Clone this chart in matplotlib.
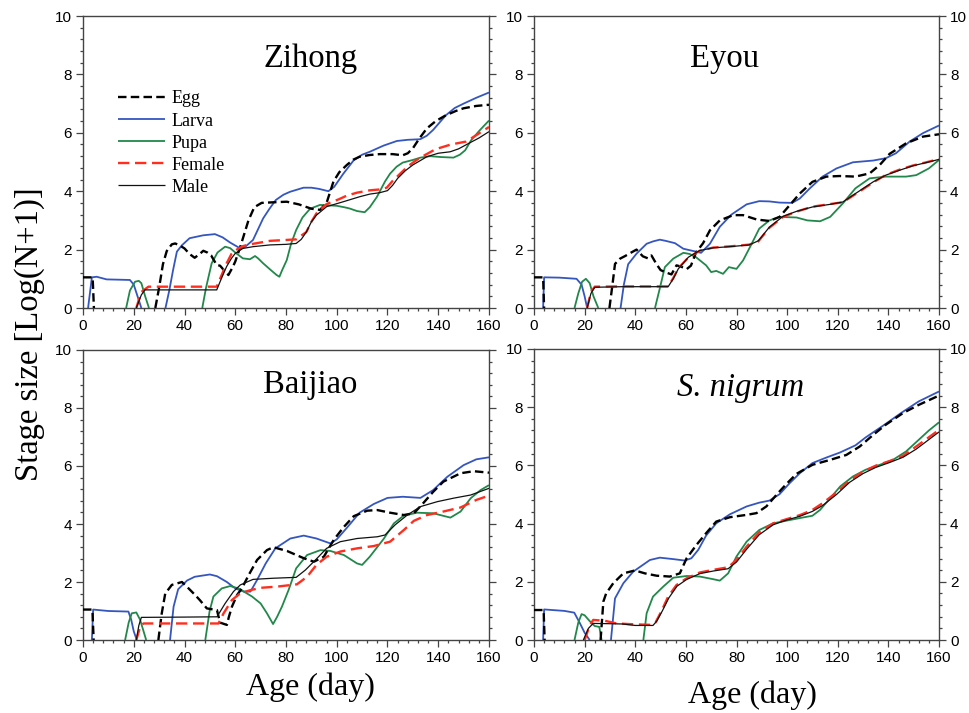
import numpy as np
import matplotlib
matplotlib.use("Agg")
import matplotlib.pyplot as plt
from matplotlib.ticker import MultipleLocator

# ---------------- data (day, log(N+1)) ----------------
zihong_egg = [(0,1.05),(3.8,1.05),(4.3,0),(28.5,0),(30,0.7),(31.5,1.5),(33,1.95),(35,2.18),(36.3,2.21),(38,2.15),(40,2.04),(42,1.85),(44,1.72),(46,1.85),(47.4,1.96),(49,1.9),(50.5,1.8),(52.7,1.47),(54,1.45),(55.5,1.3),(57.3,1.13),(59,1.4),(60,1.59),(62,2.1),(65.2,3.0),(67.5,3.45),(70.4,3.6),(75,3.62),(80.3,3.64),(85,3.55),(90,3.4),(93.4,3.36),(96,3.6),(98.7,4.33),(101,4.65),(104,4.9),(106.5,5.08),(109,5.18),(113,5.24),(117,5.27),(122,5.27),(126,5.23),(128,5.3),(130,5.47),(132.5,5.8),(135.5,6.15),(139,6.4),(143,6.6),(147,6.75),(150,6.84),(155,6.92),(160,6.96)]
zihong_larva = [(2,0),(3.5,1.05),(5.4,1.07),(9.3,0.98),(14,0.97),(18.5,0.96),(20,0.8),(21.5,0.4),(23,0),(32.5,0),(34,0.6),(35.5,1.3),(37,1.93),(39,2.15),(42,2.39),(47.4,2.49),(52,2.53),(55,2.42),(58,2.24),(62,2.04),(64,2.1),(67,2.33),(69,2.7),(71,3.07),(73.5,3.4),(76,3.7),(79,3.88),(81.6,3.98),(86.9,4.12),(90,4.12),(93,4.08),(96.7,4.0),(99,4.15),(102.6,4.6),(106.6,5.05),(110,5.25),(113,5.35),(118.4,5.56),(123.7,5.72),(128,5.76),(132.9,5.78),(135.5,5.9),(138,6.1),(140.5,6.35),(143,6.6),(146.5,6.85),(150,7.0),(155,7.2),(160,7.38)]
zihong_pupa = [(17,0),(18.5,0.6),(20.5,0.9),(22,0.93),(23,0.85),(24.5,0.4),(26,0),(47,0),(48.5,0.7),(50.7,1.53),(53,1.9),(56,2.1),(58,2.05),(60,1.9),(63,1.7),(65.8,1.67),(67.8,1.78),(69,1.7),(71,1.53),(74,1.3),(76.3,1.13),(77.4,1.07),(78.5,1.3),(80.3,1.64),(82,2.2),(84,2.67),(86.5,3.1),(89.5,3.4),(93.4,3.53),(96,3.52),(100,3.5),(103,3.45),(105,3.41),(108,3.32),(111,3.28),(113,3.45),(115.8,3.8),(119,4.33),(121,4.6),(123.6,4.84),(126,4.98),(130,5.07),(133,5.15),(136.8,5.2),(141,5.17),(146,5.15),(148.5,5.25),(150.6,5.4),(153,5.75),(156.5,6.1),(160,6.42)]
zihong_female = [(21,0),(23,0.55),(25.8,0.73),(40,0.73),(52.7,0.73),(54.5,1.1),(56.6,1.53),(58.5,1.85),(60.6,2.0),(63,2.12),(65.8,2.18),(73.7,2.3),(80,2.33),(84,2.35),(86,2.48),(88,2.6),(90,2.95),(92,3.24),(96,3.56),(101,3.73),(104,3.85),(108,3.95),(113,4.03),(117,4.06),(119.7,4.12),(122,4.35),(125,4.6),(128,4.85),(131.5,5.07),(135,5.25),(139,5.44),(145,5.6),(151,5.7),(155,5.92),(160,6.2)]
zihong_male = [(21,0),(23,0.45),(24.4,0.62),(40,0.62),(52.7,0.62),(54.5,1.0),(56.6,1.42),(58.5,1.7),(60,1.87),(63,2.04),(67,2.1),(73.7,2.16),(80,2.18),(84,2.21),(86,2.35),(88,2.6),(90,2.95),(92,3.18),(96,3.47),(102.6,3.64),(109,3.81),(113,3.9),(117,3.95),(120,4.02),(122,4.2),(124,4.44),(127,4.7),(130,4.9),(135.5,5.18),(140,5.3),(144.7,5.35),(148,5.45),(152.5,5.66),(156,5.82),(160,6.04)]

eyou_egg = [(0,1.05),(3.6,1.05),(4.0,0),(29.8,0),(31,0.8),(32,1.51),(34,1.69),(36,1.78),(38,1.88),(40.5,2.0),(43,1.77),(45,1.7),(46.4,1.8),(48.4,1.5),(50,1.3),(51.7,1.23),(54.3,1.15),(56.3,1.46),(58,1.42),(60.3,1.33),(62,1.45),(64,1.9),(66.8,2.22),(69.5,2.66),(73.4,3.0),(78.7,3.18),(82.6,3.18),(88,3.03),(93,2.98),(97,3.12),(101,3.52),(105,3.92),(110,4.32),(115.5,4.5),(120.8,4.52),(127,4.5),(132.6,4.61),(136.6,4.9),(140.5,5.28),(147,5.64),(153.7,5.87),(160,5.95)]
eyou_larva = [(3.6,0),(4.0,1.05),(10,1.04),(16.8,1.0),(18.8,0.8),(20,0.4),(21,0),(34.2,0),(35.5,0.8),(37.2,1.5),(40.5,1.86),(44.5,2.2),(47,2.28),(49.7,2.34),(52,2.3),(55.7,2.22),(59,2.03),(62.5,1.96),(66,1.89),(69.5,2.2),(73.4,2.78),(78,3.2),(84,3.55),(89,3.66),(93,3.65),(97,3.61),(102,3.6),(105,3.75),(109,4.1),(114,4.5),(119.5,4.78),(126,4.99),(134,5.05),(139,5.13),(143,5.3),(148.4,5.7),(153.7,5.99),(160,6.25)]
eyou_pupa = [(16,0),(17.5,0.5),(19,0.9),(20.5,1.0),(22,0.85),(23.5,0.4),(25.4,0),(47.8,0),(49.5,0.6),(51.7,1.4),(55,1.69),(59,1.89),(61.5,1.85),(64,1.74),(66,1.6),(68,1.46),(70,1.23),(72,1.27),(74.7,1.17),(77,1.4),(80,1.34),(82.6,1.63),(86,2.2),(89,2.72),(93,3.0),(97,3.12),(103.7,3.1),(108,3.0),(113,2.97),(117,3.12),(122,3.58),(127,4.1),(132.6,4.44),(139,4.5),(147,4.5),(151,4.55),(156,4.78),(160,5.07)]
eyou_female = [(21,0),(22.5,0.55),(24,0.73),(35,0.74),(53,0.74),(55,1.02),(57,1.36),(61,1.73),(65.5,1.96),(70.8,2.07),(78.7,2.12),(85,2.17),(88.6,2.28),(93,2.75),(98.4,3.12),(103.7,3.3),(110,3.47),(117,3.56),(122,3.62),(127,3.9),(134,4.3),(139,4.56),(144.5,4.74),(149.7,4.88),(155,4.99),(160,5.1)]
eyou_male = [(21,0),(22.5,0.5),(24,0.71),(35,0.73),(53,0.73),(55,1.0),(57,1.34),(61,1.74),(65.5,1.97),(70.8,2.06),(78.7,2.11),(85,2.16),(88.6,2.3),(93,2.77),(98.4,3.14),(103.7,3.31),(110,3.46),(117,3.55),(122,3.63),(127,3.92),(134,4.32),(139,4.55),(144.5,4.72),(149.7,4.87),(155,4.98),(160,5.09)]

baijiao_egg = [(0,1.05),(3.7,1.05),(4.2,0),(29.7,0),(31,0.9),(32.4,1.6),(35,1.9),(39,2.0),(41.6,1.78),(44.2,1.55),(46,1.38),(48.8,1.09),(52.8,1.03),(54,0.6),(56.7,0.52),(57.5,0.8),(58.7,1.15),(60.7,1.55),(62.6,1.78),(65.3,2.24),(68.6,2.76),(72.5,3.1),(75,3.2),(80.4,3.07),(87,2.82),(91,2.7),(94.9,2.87),(98.8,3.45),(102.8,3.9),(106.7,4.27),(112,4.46),(116,4.48),(121,4.39),(126.4,4.31),(130.4,4.37),(134,4.71),(138,5.11),(142,5.46),(148.8,5.75),(154,5.82),(160,5.77)]
baijiao_larva = [(3.5,0),(4,1.05),(10,1.0),(17.9,0.98),(19,0.7),(20,0.3),(21.2,0),(34.3,0),(35.7,1.15),(37.5,1.75),(41,2.05),(44,2.18),(50,2.26),(52.8,2.2),(56.7,2.0),(60,1.78),(63.3,1.67),(66,1.67),(68.6,2.07),(72,2.64),(75.8,3.16),(81.7,3.5),(87,3.6),(92,3.5),(97.5,3.33),(100,3.47),(104,3.87),(109,4.39),(114.6,4.69),(120,4.9),(126,4.94),(133,4.9),(138,5.17),(143.6,5.63),(150,6.03),(155,6.23),(160,6.3)]
baijiao_pupa = [(16.6,0),(18,0.6),(19.2,0.92),(21,0.95),(22.5,0.7),(24.9,0),(48.2,0),(49.9,1.0),(51.4,1.5),(54.7,1.78),(58,1.86),(61.3,1.78),(66.6,1.5),(70,1.26),(72.5,0.92),(74.9,0.55),(76.5,0.8),(78.4,1.15),(81,1.72),(84,2.47),(88.3,2.93),(93.6,3.1),(97.5,3.07),(102.8,2.93),(108,2.64),(110,2.59),(113,2.87),(118.6,3.5),(122.5,4.02),(126.4,4.29),(131.7,4.39),(138,4.37),(144.8,4.22),(148.8,4.43),(152.8,4.89),(156.7,5.17),(160,5.34)]
baijiao_female = [(21,0),(22.5,0.45),(23.8,0.57),(40,0.57),(53.4,0.57),(55.4,0.92),(58.7,1.38),(62,1.61),(66,1.72),(70,1.8),(76.4,1.84),(84.3,1.92),(88.3,2.18),(92,2.59),(96,2.87),(101.4,3.05),(108,3.16),(114.6,3.24),(121,3.39),(126.4,3.79),(130.4,4.11),(135.6,4.31),(142,4.43),(148.8,4.57),(155,4.83),(160,4.98)]
baijiao_male = [(21,0),(22,0.5),(23,0.78),(40,0.79),(52.8,0.8),(56,1.26),(59.3,1.67),(62,1.9),(67,2.09),(75,2.13),(84,2.16),(87.6,2.41),(91.6,2.76),(96,3.16),(101.4,3.39),(108,3.5),(116,3.56),(119,3.62),(123,3.97),(127.8,4.31),(133,4.6),(139.6,4.77),(146,4.89),(152.8,5.0),(160,5.23)]

nigrum_egg = [(0,1.03),(3.8,1.03),(4.2,0),(26.3,0),(27.4,1.32),(28.5,1.6),(31.3,1.95),(35.3,2.29),(39.9,2.39),(43.8,2.29),(48.4,2.21),(53.7,2.18),(57.6,2.29),(60.3,2.81),(64.2,3.27),(68,3.67),(72,4.07),(77.4,4.22),(84,4.3),(87.9,4.36),(91.8,4.59),(95.8,4.99),(99.7,5.36),(103.7,5.71),(110,6.02),(117,6.19),(123.4,6.36),(128.7,6.65),(134,7.05),(139,7.4),(145.8,7.8),(152,8.08),(160,8.4)]
nigrum_larva = [(3.6,0),(4,1.05),(12,1.0),(15.9,0.94),(18,0.6),(20,0.25),(22,0),(30.4,0),(32,1.43),(35.3,1.95),(39.2,2.35),(43,2.58),(45.8,2.75),(49.7,2.83),(55,2.78),(59.6,2.73),(62.2,2.81),(64.9,3.1),(68,3.59),(72,4.01),(77.4,4.32),(84,4.59),(89,4.72),(93,4.79),(97,5.01),(101,5.39),(105,5.73),(110,6.08),(115.5,6.27),(120.8,6.44),(127,6.69),(131,6.96),(139,7.43),(145,7.8),(152,8.2),(160,8.54)]
nigrum_pupa = [(16,0),(17.5,0.6),(18.8,0.89),(20,0.85),(22,0.65),(24,0.48),(25.8,0.45),(26.7,0),(43.2,0),(44.5,0.92),(47,1.49),(51,1.83),(55,2.14),(60.3,2.2),(65.5,2.18),(70.8,2.09),(73.4,2.04),(76.7,2.29),(80,2.87),(84,3.38),(89,3.78),(94.5,4.01),(99.7,4.1),(105,4.19),(110,4.27),(113,4.47),(117,4.87),(121,5.28),(126,5.62),(131,5.85),(136.6,6.02),(141.8,6.19),(147,6.48),(152,6.88),(156,7.2),(160,7.48)]
nigrum_female = [(20,0),(22,0.5),(23.4,0.69),(28,0.66),(32.6,0.57),(39.2,0.54),(46.4,0.52),(48,0.6),(50.4,1.0),(53,1.49),(56.3,1.89),(60.3,2.12),(65.5,2.32),(70.8,2.41),(76.7,2.5),(80,2.75),(84,3.21),(89,3.7),(94.5,4.01),(99.7,4.15),(105,4.29),(110,4.47),(114,4.7),(119.5,5.07),(124.7,5.48),(130,5.79),(135,5.99),(140.5,6.15),(145.8,6.33),(151,6.65),(160,7.22)]
nigrum_male = [(19.5,0),(21.5,0.4),(23.4,0.57),(30,0.56),(35,0.55),(40,0.5),(47,0.5),(48.5,0.65),(50.7,1.0),(53.3,1.45),(56.5,1.85),(60.3,2.08),(65.5,2.28),(70.8,2.37),(76.7,2.45),(80,2.68),(84,3.12),(89,3.62),(94.5,3.96),(99.7,4.12),(105,4.25),(110,4.42),(114,4.62),(119.5,5.0),(124.7,5.42),(130,5.72),(135,5.93),(140.5,6.1),(145.8,6.28),(151,6.56),(160,7.15)]

stage_labels = ["Egg", "Larva", "Pupa", "Female", "Male"]
panel_titles = ["Zihong", "Eyou", "Baijiao", "S. nigrum"]
x_ticks = [0, 20, 40, 60, 80, 100, 120, 140, 160]
y_ticks = [0, 2, 4, 6, 8, 10]

panels = [
    [zihong_egg, zihong_larva, zihong_pupa, zihong_female, zihong_male],
    [eyou_egg, eyou_larva, eyou_pupa, eyou_female, eyou_male],
    [baijiao_egg, baijiao_larva, baijiao_pupa, baijiao_female, baijiao_male],
    [nigrum_egg, nigrum_larva, nigrum_pupa, nigrum_female, nigrum_male],
]

# ---------------- styling ----------------
styles = [
    dict(color="black", lw=1.7, dashes=(3.6, 1.8)),
    dict(color="#3556bf", lw=1.3),
    dict(color="#21884a", lw=1.3),
    dict(color="#ff2e1f", lw=1.7, dashes=(4.8, 2.4)),
    dict(color="#111111", lw=0.9),
]
zorders = [3, 2, 2, 4, 5]

W, H = 969, 713
fig = plt.figure(figsize=(W / 100, H / 100), dpi=100)

def frac_rect(x0, x1, ytop, ybot):
    return [x0 / W, 1 - ybot / H, (x1 - x0) / W, (ybot - ytop) / H]

def split_zero_runs(series):
    """Return x, y with NaN breaks where the curve rests on the axis (y == 0)."""
    xs, ys = [], []
    for k, (x, y) in enumerate(series):
        if k > 0 and y == 0 and series[k - 1][1] == 0:
            xs.append(np.nan)
            ys.append(np.nan)
        xs.append(x)
        ys.append(y)
    return xs, ys

rects = [
    frac_rect(83, 489, 16, 308),
    frac_rect(534, 939, 16, 308),
    frac_rect(83, 489, 350, 640),
    frac_rect(534, 939, 349, 640),
]
title_pos = [(0.56, 0.825), (0.47, 0.825), (0.56, 0.85), (0.51, 0.84)]

tick_font = "Liberation Sans"
serif = "Liberation Serif"

axes = []
for i, (rect, series) in enumerate(zip(rects, panels)):
    ax = fig.add_axes(rect)
    axes.append(ax)
    for s, st, lab, z in zip(series, styles, stage_labels, zorders):
        xs, ys = split_zero_runs(s)
        kw = dict(st)
        dashes = kw.pop("dashes", None)
        line, = ax.plot(xs, ys, label=lab, zorder=z, solid_capstyle="butt", **kw)
        if dashes is not None:
            line.set_dashes(dashes)
    ax.set_xlim(0, 160)
    ax.set_ylim(0, 10)
    ax.set_xticks(x_ticks)
    ax.set_yticks(y_ticks)
    ax.xaxis.set_minor_locator(MultipleLocator(4))
    ax.yaxis.set_minor_locator(MultipleLocator(0.4))
    right_panel = i % 2 == 1
    ax.tick_params(which="both", direction="out", top=False, right=True,
                   labelright=right_panel, labelleft=True, colors="#444444",
                   labelcolor="black", labelsize=11, width=0.9)
    ax.tick_params(which="major", length=5, pad=3)
    ax.tick_params(which="minor", length=2.5)
    for lbl in ax.get_xticklabels() + ax.get_yticklabels():
        lbl.set_fontfamily(tick_font)
    for sp in ax.spines.values():
        sp.set_color("#444444")
        sp.set_linewidth(1.0)
    tx, ty = title_pos[i]
    style = "italic" if i == 3 else "normal"
    ax.text(tx, ty, panel_titles[i], transform=ax.transAxes, ha="center",
            va="baseline", fontsize=23.5, family=serif, style=style)

# legend in first panel
leg = axes[0].legend(loc="upper left", bbox_to_anchor=(0.086, 0.745), frameon=False,
                     prop=dict(family=serif, size=13), handlelength=2.6,
                     handletextpad=0.35, labelspacing=0.28, borderpad=0, borderaxespad=0)

# axis labels
axes[2].text(0.56, -0.19, "Age (day)", transform=axes[2].transAxes, ha="center",
             va="baseline", fontsize=23, family=serif)
axes[3].text(0.54, -0.218, "Age (day)", transform=axes[3].transAxes, ha="center",
             va="baseline", fontsize=23, family=serif)
fig.text(30 / W, 1 - 334 / H, "Stage size [Log(N+1)]", rotation=90, ha="center",
         va="center", fontsize=23.5, family=serif)

fig.savefig("out.png", dpi=100)
